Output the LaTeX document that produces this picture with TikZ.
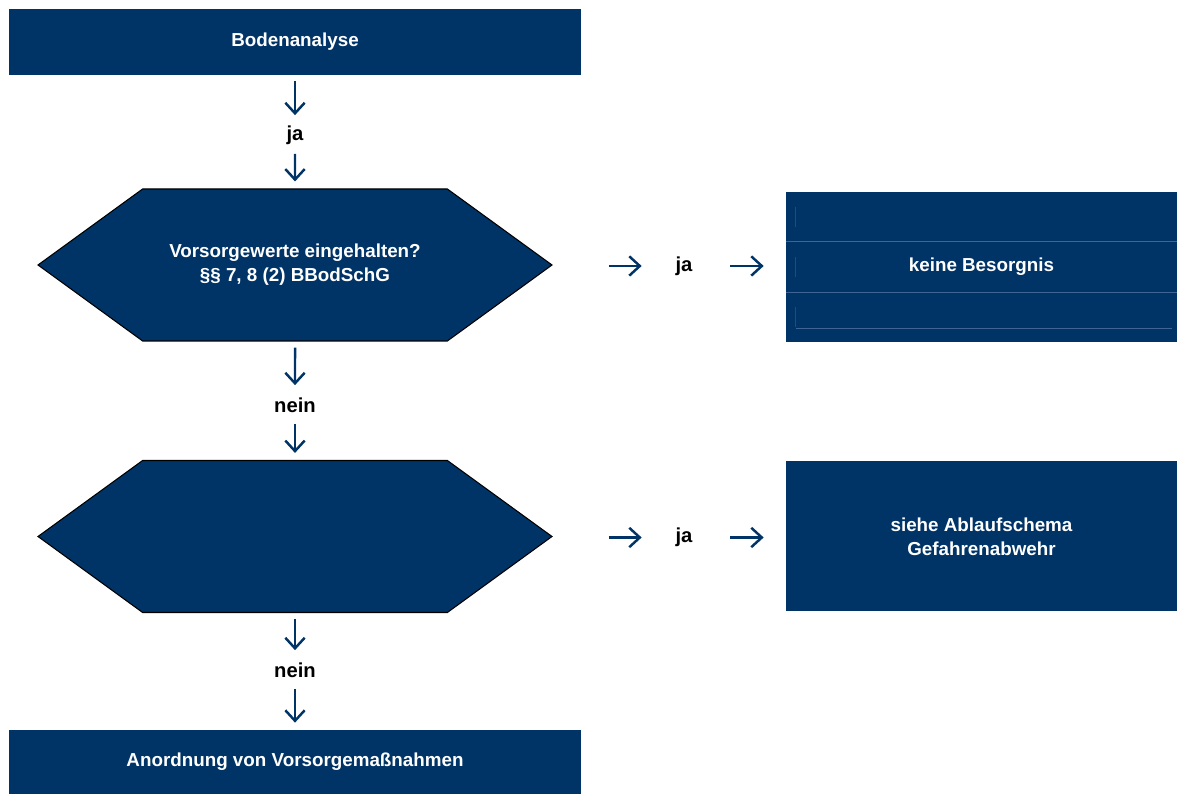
\documentclass[tikz,border=0pt]{standalone}
\usepackage{fontspec}
\setmainfont{Liberation Sans}
\usetikzlibrary{arrows.meta,shapes.symbols}
\definecolor{navy}{RGB}{0,51,102}
\definecolor{cellrule}{RGB}{64,101,148}
\tikzset{
  box/.style={fill=navy,text=white,font=\bfseries\fontsize{10.7}{13.7}\selectfont,align=center,inner sep=0pt},
  hexa/.style={box,draw=black,line width=0.6pt,signal,signal to=east and west,signal pointer angle=72,minimum width=10.28cm,minimum height=3.04cm},
  lbl/.style={font=\bfseries\fontsize{11.5}{12}\selectfont,inner sep=0pt,minimum width=0.6cm,minimum height=0.5cm},
  arr/.style={navy,line width=1.4pt,-{Straight Barb[length=6pt,width=11pt]}}
}
\begin{document}
\begin{tikzpicture}
\useasboundingbox (0,0) rectangle (23.54,15.88);
\node[box,minimum width=11.44cm,minimum height=1.32cm] (analyse) at (5.9,15.04) {Bodenanalyse};
\node[lbl] (ja1) at (5.9,13.18) {ja};
\node[hexa] (vw) at (5.9,10.58) {Vorsorgewerte eingehalten?\\§§ 7, 8 (2) BBodSchG};
\node[lbl] (nein1) at (5.9,7.78) {nein};
\node[hexa] (pw) at (5.9,5.15) {};
\node[lbl] (nein2) at (5.9,2.48) {nein};
\node[box,minimum width=11.44cm,minimum height=1.28cm] (massn) at (5.9,0.64) {Anordnung von Vorsorgemaßnahmen};
\node[lbl] (ja2) at (13.68,10.56) {ja};
\node[box,minimum width=7.82cm,minimum height=3cm] (kb) at (19.63,10.54) {keine Besorgnis};
\node[lbl] (ja3) at (13.68,5.13) {ja};
\node[box,minimum width=7.82cm,minimum height=3cm] (sa) at (19.63,5.15) {siehe Ablaufschema\\Gefahrenabwehr};
\draw[cellrule,line width=0.5pt] ([yshift=-1cm]kb.north west) -- ([yshift=-1cm]kb.north east);
\draw[cellrule,line width=0.5pt] ([yshift=1cm]kb.south west) -- ([yshift=1cm]kb.south east);
\draw[cellrule,line width=0.5pt] ([xshift=0.2cm,yshift=0.28cm]kb.south west) -- ([xshift=-0.1cm,yshift=0.28cm]kb.south east);
\foreach \i in {0,1,2}
  \draw[cellrule!50!navy,line width=0.4pt] ([xshift=0.2cm,yshift=-0.3cm-\i cm]kb.north west) -- ++(0,-0.4);
\draw[arr,shorten <=0.12cm,shorten >=0.14cm] (analyse) -- (ja1);
\draw[arr,shorten <=0.12cm,shorten >=0.14cm] (ja1) -- (vw);
\draw[arr,shorten <=0.12cm,shorten >=0.14cm] (vw) -- (nein1);
\draw[arr,shorten <=0.12cm,shorten >=0.14cm] (nein1) -- (pw);
\draw[arr,shorten <=0.12cm,shorten >=0.14cm] (pw) -- (nein2);
\draw[arr,shorten <=0.12cm,shorten >=0.14cm] (nein2) -- (massn);
\draw[arr,shorten <=1.12cm,shorten >=0.54cm] (ja2.west -| vw.east) -- (ja2.west);
\draw[arr,shorten <=0.62cm,shorten >=0.44cm] (ja2.east) -- (ja2.east -| kb.west);
\draw[arr,shorten <=1.12cm,shorten >=0.54cm] (ja3.west -| pw.east) -- (ja3.west);
\draw[arr,shorten <=0.62cm,shorten >=0.44cm] (ja3.east) -- (ja3.east -| sa.west);
\end{tikzpicture}
\end{document}
